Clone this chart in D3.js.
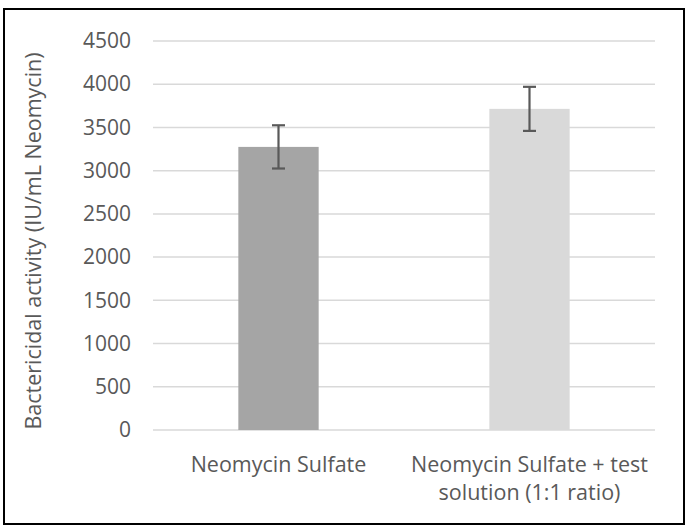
<!DOCTYPE html>
<html>
<head>
<meta charset="utf-8">
<script src="https://cdn.jsdelivr.net/npm/d3@7"></script>
<style>
  html, body { margin: 0; padding: 0; background: #fff; }
  text { font-family: "Open Sans", "Noto Sans", sans-serif; fill: #595959; }
</style>
</head>
<body>
<svg id="chart" width="690" height="532"></svg>
<script>
const categories = ["Neomycin Sulfate", "Neomycin Sulfate + test solution (1:1 ratio)"];
const categoryLines = [["Neomycin Sulfate"], ["Neomycin Sulfate + test", "solution (1:1 ratio)"]];
const values = [3275, 3715];
const errors = [250, 255];
const barColors = ["#a5a5a5", "#d9d9d9"];
const yTicks = [0, 500, 1000, 1500, 2000, 2500, 3000, 3500, 4000, 4500];
const yLabel = "Bactericidal activity (IU/mL Neomycin)";

(function () {
const svg = d3.select("#chart");
svg.append("rect").attr("x", 4).attr("y", 9).attr("width", 680).attr("height", 515)
  .attr("fill", "#fff").attr("stroke", "#000").attr("stroke-width", 2);

const pLeft = 153, pRight = 655, pTop = 41, pBottom = 430;
const x = d3.scaleBand().domain(categories).range([pLeft, pRight]).paddingInner(0.68).paddingOuter(0.34);
const y = d3.scaleLinear().domain([0, 4500]).range([pBottom, pTop]);

// gridlines
svg.append("g").selectAll("line").data(yTicks).join("line")
  .attr("x1", pLeft).attr("x2", pRight)
  .attr("y1", d => y(d)).attr("y2", d => y(d))
  .attr("stroke", "#d9d9d9").attr("stroke-width", 1.5);

// y axis tick labels
const yAxis = d3.axisLeft(y).tickValues(yTicks).tickSize(0).tickPadding(0).tickFormat(d3.format("d"));
const gy = svg.append("g").attr("transform", `translate(131,0)`).call(yAxis);
gy.select(".domain").remove();
gy.selectAll("text").style("font-size", "21px").attr("fill", "#595959")
  .style("font-family", '"Open Sans", sans-serif');

// bars
svg.append("g").selectAll("rect").data(categories).join("rect")
  .attr("x", d => x(d)).attr("width", x.bandwidth())
  .attr("y", (d, i) => y(values[i])).attr("height", (d, i) => y(0) - y(values[i]))
  .attr("fill", (d, i) => barColors[i]);

// error bars
const eg = svg.append("g").attr("stroke", "#595959").attr("stroke-width", 2.2);
categories.forEach((c, i) => {
  const cx = x(c) + x.bandwidth() / 2;
  const hi = y(values[i] + errors[i]), lo = y(values[i] - errors[i]);
  eg.append("line").attr("x1", cx).attr("x2", cx).attr("y1", hi).attr("y2", lo);
  eg.append("line").attr("x1", cx - 6.5).attr("x2", cx + 6.5).attr("y1", hi).attr("y2", hi);
  eg.append("line").attr("x1", cx - 6.5).attr("x2", cx + 6.5).attr("y1", lo).attr("y2", lo);
});

// x labels
categories.forEach((c, i) => {
  const cx = x(c) + x.bandwidth() / 2;
  const t = svg.append("text").attr("text-anchor", "middle").style("font-size", "21.5px");
  categoryLines[i].forEach((line, j) => {
    t.append("tspan").attr("x", cx).attr("y", 472 + j * 28).text(line);
  });
});

// y label
svg.append("text").attr("transform", `translate(41,241) rotate(-90)`)
  .attr("text-anchor", "middle").style("font-size", "21.5px").text(yLabel);
})();
</script>
</body>
</html>
